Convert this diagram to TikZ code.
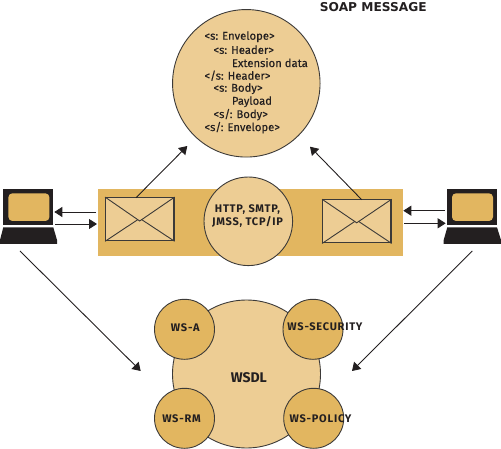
\documentclass[tikz,border=0pt]{standalone}
\usepackage{fontspec}
\setmainfont{Fira Sans}
\newfontfamily\titlefont{DejaVu Sans}
\newfontfamily\codefont[FakeBold=0.25]{Fira Sans}
\usetikzlibrary{arrows.meta}
\definecolor{lite}{HTML}{EDCD94}
\definecolor{dark}{HTML}{E2B660}
\definecolor{ink}{HTML}{231F20}
\definecolor{edge}{HTML}{3C3A38}
\tikzset{
  disc/.style={circle,draw=edge,line width=0.9pt,inner sep=0pt,align=center},
  bigdisc/.style={disc,fill=lite},
  wsdisc/.style={disc,fill=dark,minimum size=60pt},
  boldtext/.style={font=\fontsize{11}{12.7}\selectfont\bfseries\addfontfeature{LetterSpace=7},align=center,text=ink,inner sep=0pt},
  codetext/.style={font=\fontsize{11.3}{13}\selectfont\codefont,anchor=west,text=ink,inner sep=0pt},
  flow/.style={draw=ink,line width=0.9pt,-{Triangle[length=8pt,width=10pt]}},
  mail/.style={draw=edge,line width=1.2pt,fill=lite,inner sep=0pt,minimum width=68.3pt,minimum height=43pt},
  flap/.style={draw=edge,line width=0.9pt},
  screen/.style={fill=ink,draw=none,minimum width=50pt,minimum height=35.7pt,inner sep=0pt},
  glass/.style={fill=dark,draw=none,rounded corners=4pt,minimum width=41pt,minimum height=27.7pt,inner sep=0pt}
}
\begin{document}
\begin{tikzpicture}[x=1pt,y=-1pt]
\useasboundingbox (0,0) rectangle (501,449);
% title
\node[font=\fontsize{12.2}{13}\selectfont\titlefont\bfseries,text=ink,inner sep=0pt] (title) at (373.3,6.7) {SOAP MESSAGE};
% soap circle
\node[bigdisc,minimum size=147.5pt] (soap) at (246.3,83.3) {};
\node[codetext] (l1) at (204.3,36.7) {<s: Envelope>};
\node[codetext] (l2) at (213.3,49.7) {<s: Header>};
\node[codetext] (l3) at (231.7,62.7) {Extension data};
\node[codetext] (l4) at (204.3,75.7) {</s: Header>};
\node[codetext] (l5) at (213.3,88.7) {<s: Body>};
\node[codetext] (l6) at (231.7,101.7) {Payload};
\node[codetext] (l7) at (213.3,114.7) {<s/: Body>};
\node[codetext] (l8) at (204.3,127.7) {<s/: Envelope>};
% band
\node[fill=dark,draw=none,inner sep=0pt,minimum width=305.3pt,minimum height=66.4pt] (band) at (250.35,222.5) {};
\node[bigdisc,minimum size=88.6pt] (proto) at (248.3,221.3) {};
\node[boldtext] (protot) at (247.5,216) {HTTP, SMTP,\\JMSS, TCP/IP};
% envelopes
\node[mail] (envL) at (139.85,219.2) {};
\draw[flap] (envL.north west) -- (139.7,221) -- (envL.north east);
\draw[flap] (envL.south west) -- (138,219.5) (141.5,219.5) -- (envL.south east);
\node[mail] (envR) at (356.85,221.35) {};
\draw[flap] (envR.north west) -- (356.7,222.8) -- (envR.north east);
\draw[flap] (envR.south west) -- (355,221.3) (358.5,221.3) -- (envR.south east);
% computers
\node[screen] (scrL) at (28.3,207.15) {};
\node[glass] (glaL) at (28.9,207.15) {};
\fill[ink] (3.3,227.3) -- (53.3,227.3) -- (57,240) -- (57,244) -- (0,244) -- (0,240) -- cycle;
\node[screen] (scrR) at (472.2,207.15) {};
\node[glass] (glaR) at (472.5,207.15) {};
\fill[ink] (447.3,227.3) -- (497,227.3) -- (501,240) -- (501,244) -- (443.7,244) -- (443.7,240) -- cycle;
% wsdl
\node[bigdisc,minimum size=148pt] (wsdl) at (246.5,374) {};
\node[inner sep=0pt,text=ink,font=\fontsize{14}{15}\selectfont\bfseries] (wsdllabel) at (248.8,378) {WSDL};
\node[wsdisc] (wsa) at (184.5,329.3) {};
\node[wsdisc] (wssec) at (313,329.3) {};
\node[wsdisc] (wsrm) at (184.5,418.3) {};
\node[wsdisc] (wspol) at (313.7,418.3) {};
\node[boldtext] (wsat) at (185.3,328) {WS-A};
\node[boldtext] (wssect) at (325,326.5) {WS-SECURITY};
\node[boldtext] (wsrmt) at (181.5,419) {WS-RM};
\node[boldtext] (wspolt) at (320.5,419) {WS-POLICY};
% free ends
\coordinate (upL) at (187.3,146);
\coordinate (upR) at (310,146.7);
\coordinate (fromL) at (136,197.7);
\coordinate (fromR) at (361.7,199.7);
\coordinate (pcL) at (20,251);
\coordinate (pcR) at (472.3,251);
\coordinate (wsL) at (140.7,371);
\coordinate (wsR) at (352,371);
\coordinate (a1) at (96,212); \coordinate (a2) at (54.3,212);
\coordinate (a3) at (55,224); \coordinate (a4) at (97,224);
\coordinate (b1) at (445,210.7); \coordinate (b2) at (403.3,210.7);
\coordinate (b3) at (404.3,223.3); \coordinate (b4) at (445.7,223.3);
% connectors
\draw[flow] (fromL) -- (upL);
\draw[flow] (fromR) -- (upR);
\draw[flow] (pcL) -- (wsL);
\draw[flow] (pcR) -- (wsR);
\draw[flow] (a1) -- (a2);
\draw[flow] (a3) -- (a4);
\draw[flow] (b1) -- (b2);
\draw[flow] (b3) -- (b4);
\end{tikzpicture}
\end{document}
